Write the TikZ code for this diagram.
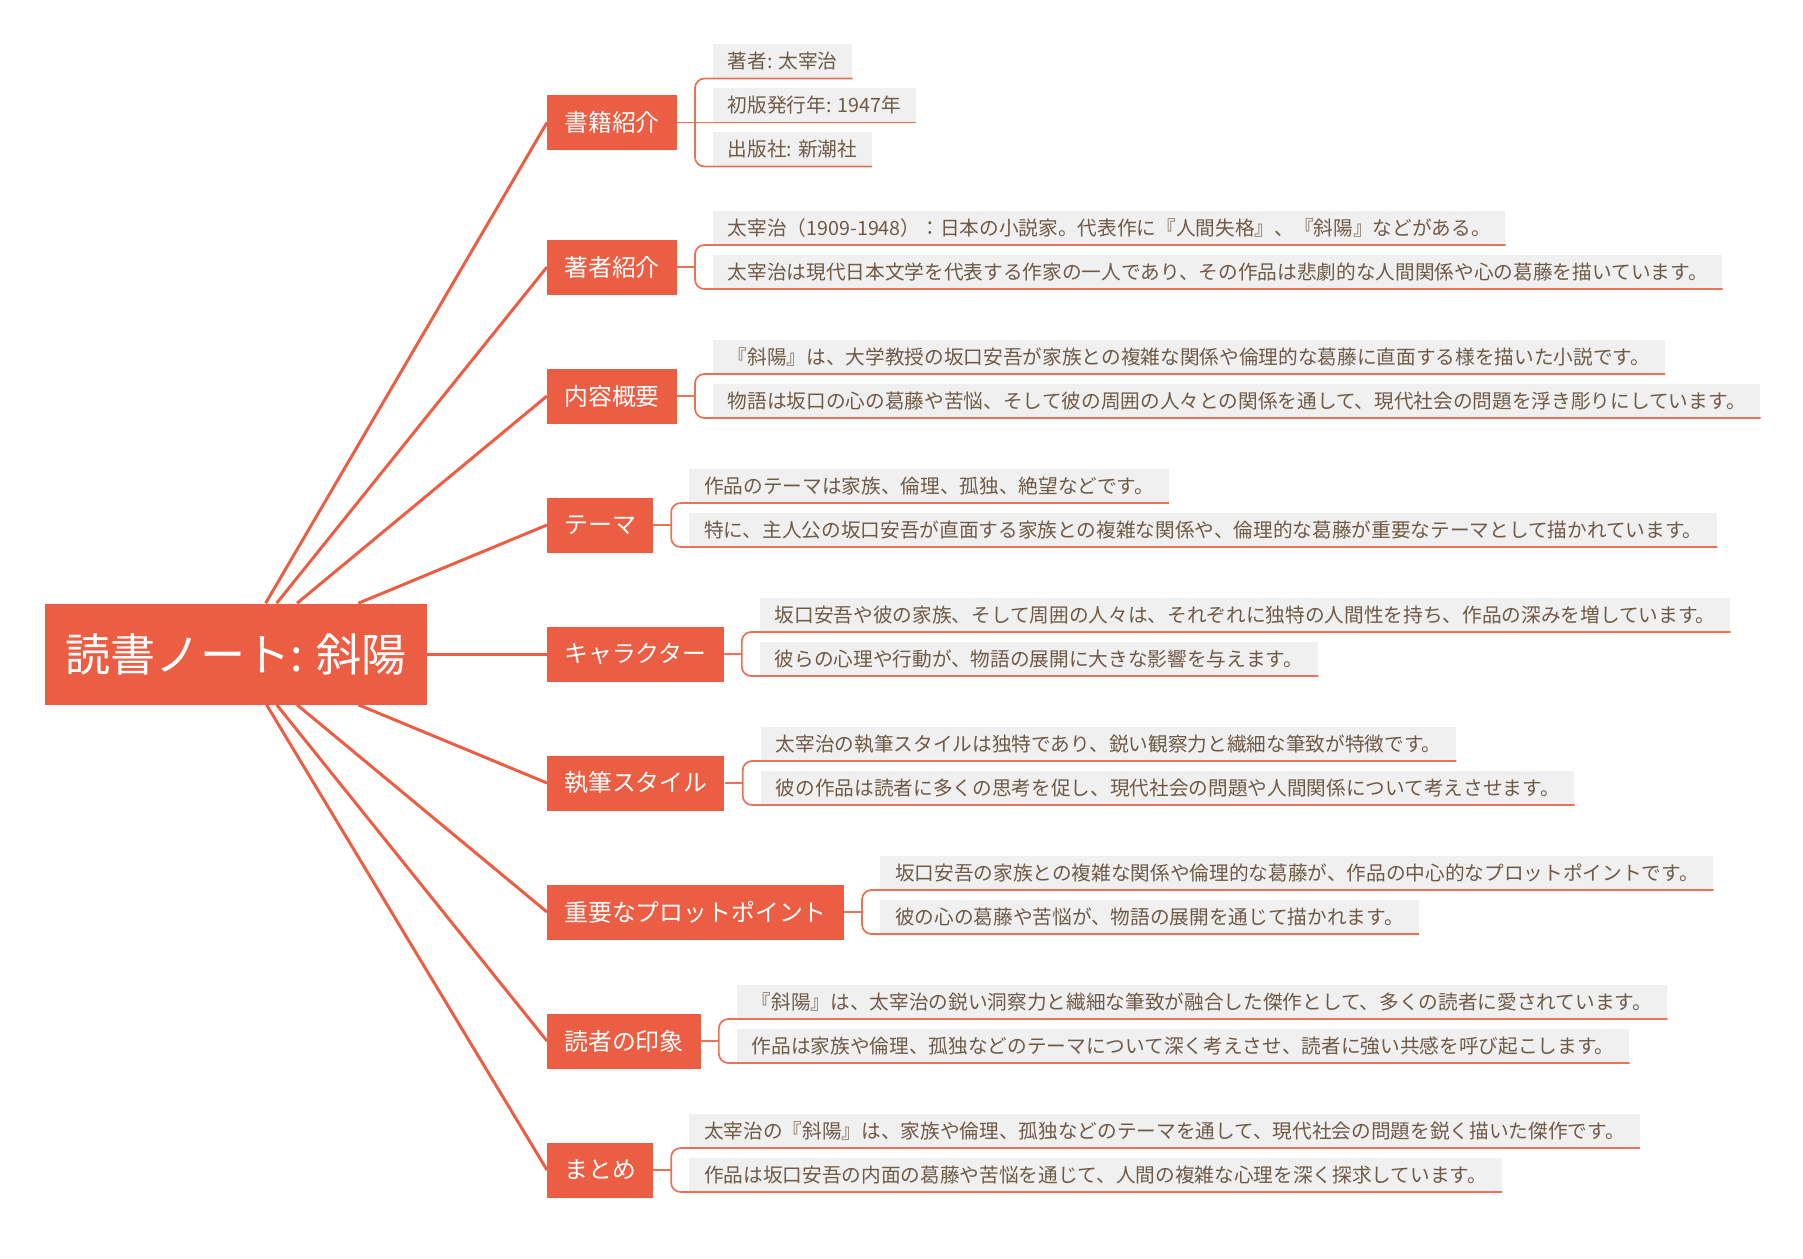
\documentclass[tikz,border=0pt]{standalone}
\usepackage{fontspec}
\setmainfont{Noto Sans CJK JP}
\usetikzlibrary{calc}
\definecolor{mmred}{HTML}{EB5E43}
\definecolor{twigred}{HTML}{EC7257}
\definecolor{leafgray}{HTML}{F0F0F0}
\definecolor{leaftext}{HTML}{6F5A46}

\begin{document}
\begin{tikzpicture}[x=0.75pt,y=-0.75pt,
  rootbox/.style={fill=mmred,text=white,font=\fontsize{33.8}{36}\selectfont,minimum width=286.5pt,minimum height=75.75pt,inner sep=0pt},
  topic/.style={fill=mmred,text=white,font=\fontsize{17.9}{20}\selectfont,minimum height=41.25pt,inner xsep=12.75pt,inner ysep=0pt,anchor=west},
  leaf/.style={fill=leafgray,text=leaftext,font=\fontsize{14.75}{17}\selectfont,minimum height=25.5pt,inner xsep=11pt,inner ysep=0pt,anchor=south west},
  limb/.style={mmred,line width=2.25pt},
  twig/.style={twigred,line width=1.3pt,rounded corners=7pt}]
\useasboundingbox (0,0) rectangle (1803,1259);

% Central topic
\node[rootbox] (root) at (236,654) {読書ノート: 斜陽};

% Main topics
\node[topic] (b1) at (547,122.5) {書籍紹介};
\node[topic] (b2) at (547,267) {著者紹介};
\node[topic] (b3) at (547,396) {内容概要};
\node[topic] (b4) at (547,525) {テーマ};
\node[topic] (b5) at (547,654) {キャラクター};
\node[topic] (b6) at (547,783) {執筆スタイル};
\node[topic] (b7) at (547,912) {重要なプロットポイント};
\node[topic] (b8) at (547,1041) {読者の印象};
\node[topic] (b9) at (547,1170) {まとめ};

% Limbs from the central topic
\draw[limb] (root) -- (b1.west);
\draw[limb] (root) -- (b2.west);
\draw[limb] (root) -- (b3.west);
\draw[limb] (root) -- (b4.west);
\draw[limb] (root) -- (b5.west);
\draw[limb] (root) -- (b6.west);
\draw[limb] (root) -- (b7.west);
\draw[limb] (root) -- (b8.west);
\draw[limb] (root) -- (b9.west);

% Book details
\node[leaf] (l11) at ($(b1.east)+(36,-44)$) {著者: 太宰治};
\node[leaf] (l12) at ($(b1.east)+(36,0)$) {初版発行年: 1947年};
\node[leaf] (l13) at ($(b1.east)+(36,44)$) {出版社: 新潮社};
\coordinate (j1) at ($(b1.east)+(18,0)$);
\draw[twig] (b1.east) -- (j1);
\draw[twig] (j1) |- (l11.south west) -- (l11.south east);
\draw[twig] (j1) -- (l12.south west) -- (l12.south east);
\draw[twig] (j1) |- (l13.south west) -- (l13.south east);

% Author
\node[leaf] (l21) at ($(b2.east)+(36,-22)$) {太宰治（1909-1948）：日本の小説家。代表作に『人間失格』、『斜陽』などがある。};
\node[leaf] (l22) at ($(b2.east)+(36,22)$) {太宰治は現代日本文学を代表する作家の一人であり、その作品は悲劇的な人間関係や心の葛藤を描いています。};
\coordinate (j2) at ($(b2.east)+(18,0)$);
\draw[twig] (b2.east) -- (j2);
\draw[twig] (j2) |- (l21.south west) -- (l21.south east);
\draw[twig] (j2) |- (l22.south west) -- (l22.south east);

% Summary
\node[leaf] (l31) at ($(b3.east)+(36,-22)$) {『斜陽』は、大学教授の坂口安吾が家族との複雑な関係や倫理的な葛藤に直面する様を描いた小説です。};
\node[leaf] (l32) at ($(b3.east)+(36,22)$) {物語は坂口の心の葛藤や苦悩、そして彼の周囲の人々との関係を通して、現代社会の問題を浮き彫りにしています。};
\coordinate (j3) at ($(b3.east)+(18,0)$);
\draw[twig] (b3.east) -- (j3);
\draw[twig] (j3) |- (l31.south west) -- (l31.south east);
\draw[twig] (j3) |- (l32.south west) -- (l32.south east);

% Theme
\node[leaf] (l41) at ($(b4.east)+(36,-22)$) {作品のテーマは家族、倫理、孤独、絶望などです。};
\node[leaf] (l42) at ($(b4.east)+(36,22)$) {特に、主人公の坂口安吾が直面する家族との複雑な関係や、倫理的な葛藤が重要なテーマとして描かれています。};
\coordinate (j4) at ($(b4.east)+(18,0)$);
\draw[twig] (b4.east) -- (j4);
\draw[twig] (j4) |- (l41.south west) -- (l41.south east);
\draw[twig] (j4) |- (l42.south west) -- (l42.south east);

% Characters
\node[leaf] (l51) at ($(b5.east)+(36,-22)$) {坂口安吾や彼の家族、そして周囲の人々は、それぞれに独特の人間性を持ち、作品の深みを増しています。};
\node[leaf] (l52) at ($(b5.east)+(36,22)$) {彼らの心理や行動が、物語の展開に大きな影響を与えます。};
\coordinate (j5) at ($(b5.east)+(18,0)$);
\draw[twig] (b5.east) -- (j5);
\draw[twig] (j5) |- (l51.south west) -- (l51.south east);
\draw[twig] (j5) |- (l52.south west) -- (l52.south east);

% Style
\node[leaf] (l61) at ($(b6.east)+(36,-22)$) {太宰治の執筆スタイルは独特であり、鋭い観察力と繊細な筆致が特徴です。};
\node[leaf] (l62) at ($(b6.east)+(36,22)$) {彼の作品は読者に多くの思考を促し、現代社会の問題や人間関係について考えさせます。};
\coordinate (j6) at ($(b6.east)+(18,0)$);
\draw[twig] (b6.east) -- (j6);
\draw[twig] (j6) |- (l61.south west) -- (l61.south east);
\draw[twig] (j6) |- (l62.south west) -- (l62.south east);

% Plot points
\node[leaf] (l71) at ($(b7.east)+(36,-22)$) {坂口安吾の家族との複雑な関係や倫理的な葛藤が、作品の中心的なプロットポイントです。};
\node[leaf] (l72) at ($(b7.east)+(36,22)$) {彼の心の葛藤や苦悩が、物語の展開を通じて描かれます。};
\coordinate (j7) at ($(b7.east)+(18,0)$);
\draw[twig] (b7.east) -- (j7);
\draw[twig] (j7) |- (l71.south west) -- (l71.south east);
\draw[twig] (j7) |- (l72.south west) -- (l72.south east);

% Impression
\node[leaf] (l81) at ($(b8.east)+(36,-22)$) {『斜陽』は、太宰治の鋭い洞察力と繊細な筆致が融合した傑作として、多くの読者に愛されています。};
\node[leaf] (l82) at ($(b8.east)+(36,22)$) {作品は家族や倫理、孤独などのテーマについて深く考えさせ、読者に強い共感を呼び起こします。};
\coordinate (j8) at ($(b8.east)+(18,0)$);
\draw[twig] (b8.east) -- (j8);
\draw[twig] (j8) |- (l81.south west) -- (l81.south east);
\draw[twig] (j8) |- (l82.south west) -- (l82.south east);

% Conclusion
\node[leaf] (l91) at ($(b9.east)+(36,-22)$) {太宰治の『斜陽』は、家族や倫理、孤独などのテーマを通して、現代社会の問題を鋭く描いた傑作です。};
\node[leaf] (l92) at ($(b9.east)+(36,22)$) {作品は坂口安吾の内面の葛藤や苦悩を通じて、人間の複雑な心理を深く探求しています。};
\coordinate (j9) at ($(b9.east)+(18,0)$);
\draw[twig] (b9.east) -- (j9);
\draw[twig] (j9) |- (l91.south west) -- (l91.south east);
\draw[twig] (j9) |- (l92.south west) -- (l92.south east);
\end{tikzpicture}
\end{document}
